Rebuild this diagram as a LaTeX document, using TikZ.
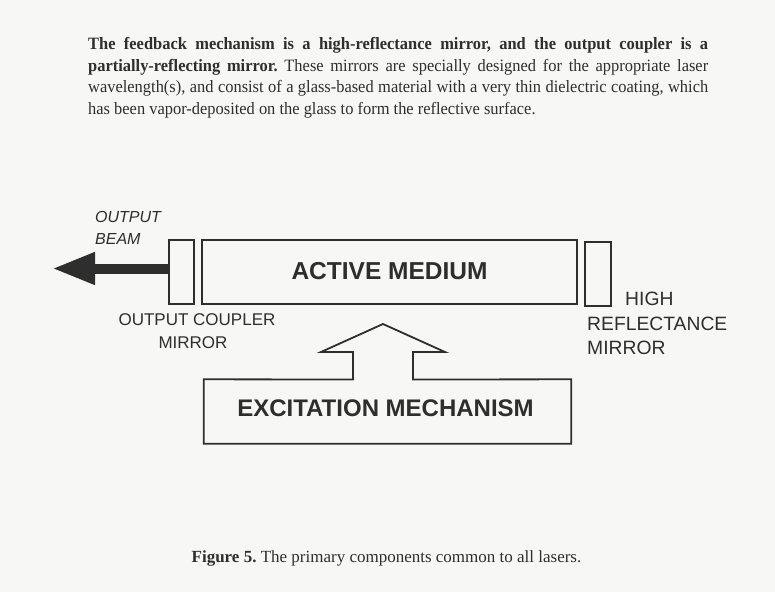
\documentclass[tikz,border=0pt]{standalone}
\usepackage{fontspec}
\setmainfont{Liberation Serif}
\setsansfont{Liberation Sans}
\newfontfamily\bodyfont[FakeStretch=0.95]{Liberation Serif}
\usetikzlibrary{arrows.meta}
\definecolor{ink}{HTML}{2E2E2E}
\definecolor{paper}{HTML}{F7F7F5}
\frenchspacing
\begin{document}
\begin{tikzpicture}[x=1pt,y=-1pt,
  part/.style={draw=ink, line width=1.8pt, inner sep=0pt, text=ink},
  lab/.style={font=\sffamily\fontsize{17}{24}\selectfont, text=ink, inner sep=0pt},
  hrl/.style={lab, font=\sffamily\fontsize{19.3}{24}\selectfont, anchor=base west},
  biglab/.style={font=\sffamily\bfseries\fontsize{24.5}{28}\selectfont, text=ink, inner sep=0pt},
  bodyline/.style={font=\bodyfont\fontsize{17.3}{21.5}\selectfont, text=ink, inner sep=0pt, anchor=base west},
  captxt/.style={font=\fontsize{17}{21.5}\selectfont, text=ink, inner sep=0pt}]
\fill[paper] (0,0) rectangle (775,592);
\useasboundingbox (0,0) rectangle (775,592);

% body text, one justified line per node
\node[bodyline] (txt1) at (88,49.5) {\makebox[620pt][s]{\textbf{The feedback mechanism is a high-reflectance mirror, and the output coupler is a}}};
\node[bodyline] (txt2) at (88,71) {\makebox[620pt][s]{\textbf{partially-reflecting mirror.} These mirrors are specially designed for the appropriate laser}};
\node[bodyline] (txt3) at (88,92.5) {\makebox[620pt][s]{wavelength(s), and consist of a glass-based material with a very thin dielectric coating, which}};
\node[bodyline] (txt4) at (88,114) {has been vapor-deposited on the glass to form the reflective surface.};

% mirrors and active medium
\node[part, minimum width=25pt, minimum height=64pt] (oc) at (181.5,272) {};
\node[part, minimum width=375pt, minimum height=64pt] (am) at (389.5,272) {};
\node[biglab] (amtext) at (389.5,271.5) {ACTIVE MEDIUM};
\node[part, minimum width=26pt, minimum height=64pt] (hr) at (598,274) {};

% output beam
\coordinate (beamtip) at (52,268.5);
\draw[ink, line width=10pt, -{Triangle[length=43pt,width=30pt]}] (oc.west |- beamtip) -- (beamtip);

% labels
\node[lab, font=\sffamily\itshape\fontsize{16}{22}\selectfont, anchor=base west] (beamlab1) at (95,222) {OUTPUT};
\node[lab, font=\sffamily\itshape\fontsize{16}{22}\selectfont, anchor=base west] (beamlab2) at (95,244) {BEAM};
\node[lab, anchor=base] (oclab1) at (197,325) {OUTPUT COUPLER};
\node[lab, anchor=base] (oclab2) at (193,348) {MIRROR};
\node[hrl] (hrlab1) at (625,305) {HIGH};
\node[hrl] (hrlab2) at (587,330) {REFLECTANCE};
\node[hrl] (hrlab3) at (587,354) {MIRROR};

% excitation mechanism with pumping arrow
\node[inner sep=0pt, minimum width=367pt, minimum height=64pt] (ex) at (387.5,411.5) {};
\node[biglab, font=\sffamily\bfseries\fontsize{24}{28}\selectfont] (extext) at (385.5,408) {EXCITATION MECHANISM};
\draw[ink, line width=1.8pt, line join=miter]
  (353,379.5) -- (ex.north west) -- (ex.south west) -- (ex.south east) -- (ex.north east)
  -- (413,379.5) -- (413,352) -- (445,352) -- (383,324) -- (321,352) -- (353,352) -- cycle;

% caption
\node[captxt, anchor=base] (cap) at (386.5,562) {\textbf{Figure 5.} The primary components common to all lasers.};
\end{tikzpicture}
\end{document}
